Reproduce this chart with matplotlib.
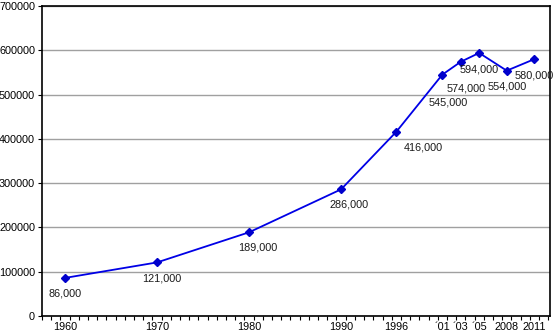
import numpy as np
import matplotlib
matplotlib.use("Agg")
import matplotlib.pyplot as plt

years = [1960, 1970, 1980, 1990, 1996, 2001, 2003, 2005, 2008, 2011]
values = [86000, 121000, 189000, 286000, 416000, 545000, 574000, 594000, 554000, 580000]
tick_labels = ["1960", "1970", "1980", "1990", "1996", "\u00b401", "\u00b403", "\u00b405", "2008", "2011"]
value_labels = ["86,000", "121,000", "189,000", "286,000", "416,000",
                "545,000", "574,000", "594,000", "554,000", "580,000"]
# label offsets in pixels relative to each point
label_offsets = [(0, -16), (5, -16), (9, -15), (8, -15), (27, -16),
                 (6, -28), (5, -27), (0, -17), (0, -16), (0, -16)]

plt.rcParams['font.family'] = ['Liberation Sans', 'DejaVu Sans']

fig = plt.figure(figsize=(5.55, 3.35), dpi=100)
ax = fig.add_axes([42 / 555, 19 / 335, 508 / 555, 310 / 335])

ax.set_xlim(1957.5, 2012.7)
ax.set_ylim(0, 700000)

ax.set_yticks(np.arange(0, 700001, 100000))
ax.set_yticklabels([str(v) for v in range(0, 700001, 100000)], fontsize=7.8)
ax.yaxis.grid(True, color='#a0a0a0', linewidth=1)
ax.set_axisbelow(True)

ax.set_xticks(years)
ax.set_xticklabels(tick_labels, fontsize=7.8)
ax.tick_params(axis='x', length=0, pad=4)
ax.set_xticks(np.arange(1957.5, 2012.6, 1), minor=True)
ax.tick_params(axis='x', which='minor', length=3, direction='out', width=0.8)
ax.tick_params(axis='y', length=3, direction='out', width=0.8, pad=2)

for s in ax.spines.values():
    s.set_color('black')
    s.set_linewidth(1.2)

ax.plot(years, values, color='#0000e6', linewidth=1.3, marker='D', markersize=4.5,
        markerfacecolor='#0000cc', markeredgecolor='#0000cc')

for x, y, lab, (dx, dy) in zip(years, values, value_labels, label_offsets):
    ax.annotate(lab, (x, y), xytext=(dx, dy), textcoords='offset pixels',
                ha='center', va='center', fontsize=7.8, color='#1a1a1a')

fig.savefig("out.png", dpi=100)
